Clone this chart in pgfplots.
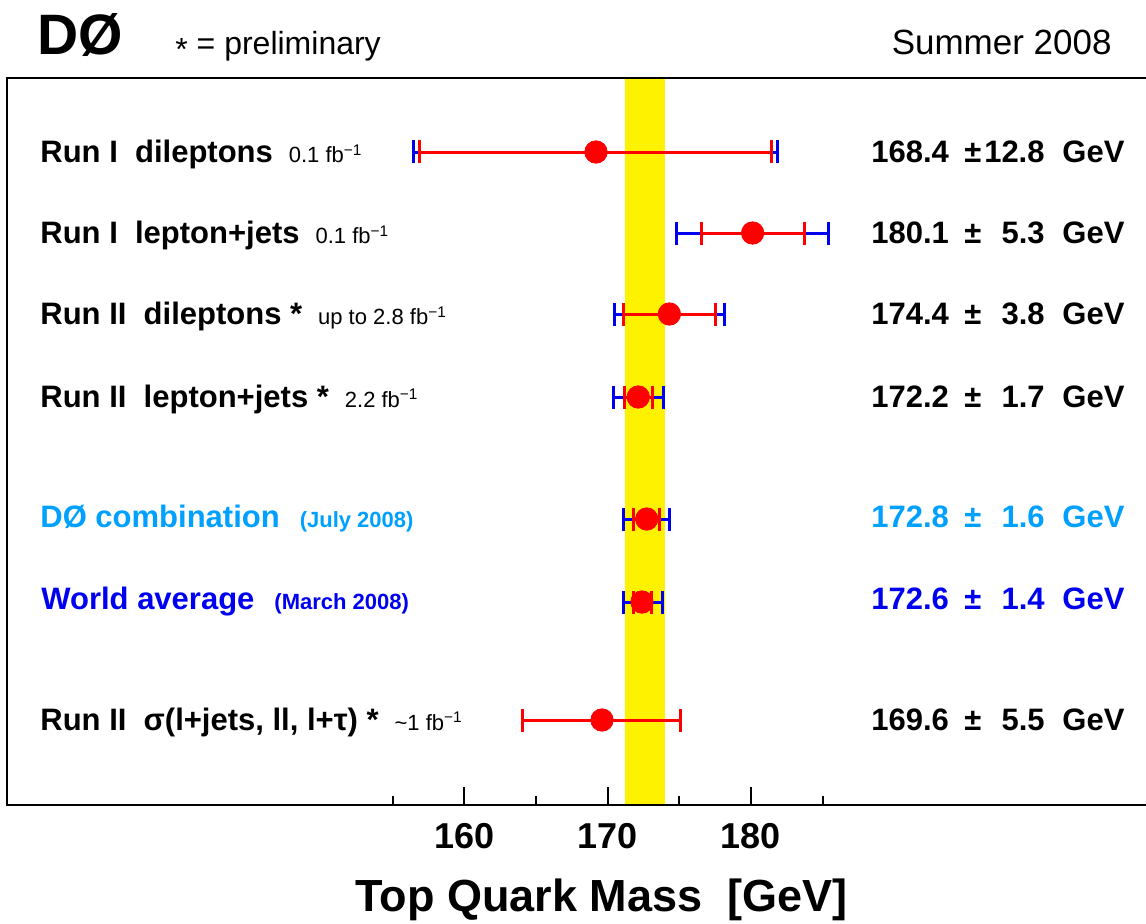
\documentclass[border=0pt]{standalone}
\usepackage{pgfplots}
\pgfplotsset{compat=1.18}
\usepackage{pgfplotstable}
\usepackage{fontspec}
\setmainfont{Liberation Sans}
\definecolor{lblue}{RGB}{0,160,255}
\definecolor{dblue}{RGB}{0,0,240}

% total uncertainties (blue caps)
\pgfplotstableread{
x y tot
169.15 653 12.7
180.12 572 5.3
174.31 491 3.83
172.15 408 1.75
172.72 286 1.62
172.45 203 1.37
}\totdata

% statistical uncertainties (red caps)
\pgfplotstableread{
x y stat
169.15 653 12.3
180.12 572 3.6
174.31 491 3.19
172.15 408 0.99
172.72 286 0.88
172.45 203 0.64
169.59 85 5.52
}\statdata

% central values
\pgfplotstableread{
x y
169.19 653
180.12 572
174.31 491
172.14 408
172.73 286
172.40 203
169.61 85
}\dotdata

\newcommand{\labbig}[1]{{\fontsize{15.5}{18}\selectfont\bfseries #1}}
\newcommand{\labsml}[1]{{\fontsize{11}{13}\selectfont #1}}
\newcommand{\fbinv}{fb\textsuperscript{−1}}

\begin{document}
\begin{tikzpicture}
\useasboundingbox (0,0) rectangle (573pt,461.5pt);
\begin{axis}[
  at={(3.5pt,59pt)}, anchor=south west,
  scale only axis, width=571.5pt, height=363.5pt,
  xmin=128.09, xmax=207.85, ymin=0, ymax=727,
  axis on top,
  axis line style={line width=1.2pt},
  xtick={160,170,180}, minor xtick={155,165,175,185},
  ytick=\empty,
  xtick pos=bottom, tick align=inside,
  major tick length=9pt, minor tick length=4.5pt,
  tick style={line width=1pt, black},
  /pgf/number format/assume math mode=true,
  xticklabel style={font=\fontsize{18}{21}\selectfont\bfseries, inner sep=0pt, yshift=-9pt},
  xlabel={Top Quark Mass~~[GeV]},
  xlabel style={font=\fontsize{22.5}{27}\selectfont\bfseries, at={(rel axis cs:0.52,0)}, anchor=base, yshift=-53pt},
]
% yellow band
\addplot[fill=yellow, draw=none] coordinates {(171.2,0) (174.0,0) (174.0,727) (171.2,727)} -- cycle;
% total errors (blue)
\addplot[only marks, mark=none,
  error bars/.cd, x dir=both, x explicit,
  error bar style={draw=dblue, line width=1.5pt},
  error mark options={draw=dblue, line width=1.5pt, mark size=5.75pt, rotate=90}]
  table[x=x, y=y, x error=tot] \totdata;
% stat errors (red)
\addplot[only marks, mark=none,
  error bars/.cd, x dir=both, x explicit,
  error bar style={draw=red, line width=1.5pt},
  error mark options={draw=red, line width=1.5pt, mark size=5.75pt, rotate=90}]
  table[x=x, y=y, x error=stat] \statdata;
% central values
\addplot[only marks, mark=*, mark size=5.6pt, red, mark options={fill=red, draw=red}]
  table[x=x, y=y] \dotdata;
\end{axis}

\begin{scope}[x=0.5pt, y=-0.5pt, shift={(0,461.5pt)}]
  % header
  \node[anchor=base west, inner sep=0pt, font=\fontsize{28.5}{31}\selectfont\bfseries] at (37,55) {DØ};
  \node[anchor=base west, inner sep=0pt, font=\fontsize{16}{19}\selectfont] at (175,55) {\raisebox{-0.35ex}{*} = preliminary};
  \node[anchor=base east, inner sep=0pt, font=\fontsize{17.5}{20}\selectfont] at (1112,55) {Summer 2008};
  % left labels
  \node[anchor=base west, inner sep=0pt] at (40,163) {\labbig{Run I~~dileptons}\hspace{8pt}\labsml{0.1 \fbinv}};
  \node[anchor=base west, inner sep=0pt] at (40,244) {\labbig{Run I~~lepton+jets}\hspace{8pt}\labsml{0.1 \fbinv}};
  \node[anchor=base west, inner sep=0pt] at (40,325) {\labbig{Run II~~dileptons *}\hspace{8pt}\labsml{up to 2.8 \fbinv}};
  \node[anchor=base west, inner sep=0pt] at (40,407) {\labbig{Run II~~lepton+jets *}\hspace{8pt}\labsml{2.2 \fbinv}};
  \node[anchor=base west, inner sep=0pt, text=lblue] at (40,527) {\labbig{DØ combination}\hspace{10pt}{\fontsize{11}{13}\selectfont\bfseries (July 2008)}};
  \node[anchor=base west, inner sep=0pt, text=dblue] at (41,609) {\labbig{World average}\hspace{10pt}{\fontsize{11}{13}\selectfont\bfseries (March 2008)}};
  \node[anchor=base west, inner sep=0pt] at (40,730) {\labbig{Run II~~σ(l+jets, ll, l+τ) *}\hspace{8pt}\labsml{\textasciitilde 1 \fbinv}};
  % right values
  \foreach \yy/\va/\vb/\col in {163/168.4/12.8/black, 244/180.1/5.3/black, 325/174.4/3.8/black, 407/172.2/1.7/black, 527/172.8/1.6/lblue, 609/172.6/1.4/dblue, 730/169.6/5.5/black}{
    \node[anchor=base west, inner sep=0pt, font=\fontsize{15.5}{18}\selectfont\bfseries, text=\col] at (871,\yy) {\va};
    \node[anchor=base west, inner sep=0pt, font=\fontsize{15.5}{18}\selectfont\bfseries, text=\col] at (964,\yy) {±};
    \node[anchor=base east, inner sep=0pt, font=\fontsize{15.5}{18}\selectfont\bfseries, text=\col] at (1045,\yy) {\vb};
    \node[anchor=base west, inner sep=0pt, font=\fontsize{15.5}{18}\selectfont\bfseries, text=\col] at (1062,\yy) {GeV};
  }
\end{scope}
\end{tikzpicture}
\end{document}
